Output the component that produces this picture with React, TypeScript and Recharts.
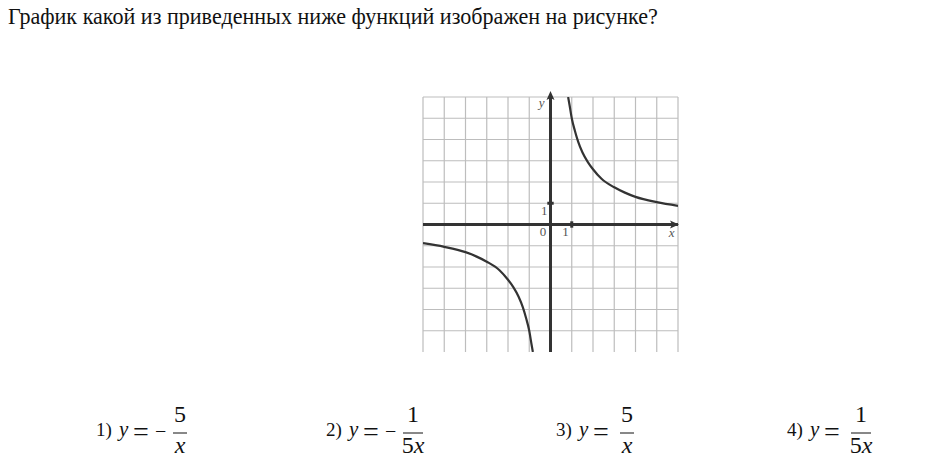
import React from "react";
import {
  ComposedChart,
  Line,
  XAxis,
  YAxis,
  CartesianGrid,
  ReferenceLine,
  ReferenceDot,
} from "recharts";

const question = "График какой из приведенных ниже функций изображен на рисунке?";

// grid ticks (in units)
const gridX = [-6, -5, -4, -3, -2, -1, 0, 1, 2, 3, 4, 5, 6];
const gridY = [-5, -4, -3, -2, -1, 0, 1, 2, 3, 4, 5, 6];

// curve: right branch and left branch
const rightX = [0.83, 0.9, 1, 1.15, 1.3, 1.5, 1.75, 2, 2.4, 3, 3.5, 4, 5, 6];
const rightY = [6, 5.6, 5, 4.4, 3.9, 3.4, 2.95, 2.6, 2.15, 1.75, 1.5, 1.3, 1.05, 0.88];
const leftX = [-6, -5, -4, -3.5, -3, -2.4, -2, -1.75, -1.5, -1.3, -1.15, -1, -0.9, -0.83];
const leftY = [-0.88, -1.05, -1.3, -1.5, -1.75, -2.15, -2.6, -2.95, -3.4, -3.9, -4.4, -5, -5.6, -6];

// answer options
const optNums = ["1)", "2)", "3)", "4)"];
const optSign = ["−", "−", "", ""];
const optTop = ["5", "1", "5", "1"];
const optCoef = ["", "5", "", "5"];

const rightBranch = rightX.map((x, i) => ({ x, y: rightY[i] }));
const leftBranch = leftX.map((x, i) => ({ x, y: leftY[i] }));

const serif = "Liberation Serif";
const ink = "#333";
const optLeft = [96, 326, 556, 787];

function ArrowRight(p: any) {
  const { cx, cy } = p;
  return <path d={`M${cx + 1},${cy} L${cx - 8},${cy - 4} L${cx - 6},${cy} L${cx - 8},${cy + 4} Z`} fill={ink} />;
}

function ArrowUp(p: any) {
  const { cx, cy } = p;
  return <path d={`M${cx},${cy - 6} L${cx - 4},${cy + 3} L${cx},${cy + 1} L${cx + 4},${cy + 3} Z`} fill={ink} />;
}

const textAt = (label: string, italic = false) => (p: any) => (
  <text
    x={p.cx}
    y={p.cy}
    textAnchor="middle"
    dominantBaseline="central"
    fontFamily={serif}
    fontSize={13}
    fontStyle={italic ? "italic" : "normal"}
    fill="#555"
  >
    {label}
  </text>
);

function Option({ i }: { i: number }) {
  const x0 = optLeft[i];
  const hasSign = !!optSign[i];
  const wide = !!optCoef[i];
  const barStart = x0 + (hasSign ? 77 : 64);
  const barW = wide ? 20 : 14;
  const mid = barStart + barW / 2;
  return (
    <g fontFamily={serif} fill="#111">
      <text x={x0} y={436} fontSize={19}>{optNums[i]}</text>
      <text x={x0 + 23} y={436} fontSize={21} fontStyle="italic">y</text>
      <text x={x0 + 37} y={441} fontSize={28}>=</text>
      {hasSign ? <text x={x0 + 59} y={438} fontSize={20}>−</text> : null}
      <line x1={barStart} x2={barStart + barW} y1={433} y2={433} stroke="#111" strokeWidth={1} />
      <text x={mid} y={422} fontSize={24} textAnchor="middle">{optTop[i]}</text>
      <text x={mid} y={453} fontSize={24} textAnchor="middle">
        {optCoef[i]}
        <tspan fontStyle="italic">x</tspan>
      </text>
    </g>
  );
}

export default function App() {
  return (
    <div style={{ position: "absolute", left: 0, top: 0, width: 931, height: 465, background: "#fff" }}>
      <svg width={931} height={465} style={{ position: "absolute", left: 0, top: 0 }}>
        <text x={8} y={24} fontFamily={serif} fontSize={22.1} fill="#111">{question}</text>
        {optNums.map((n, i) => (
          <Option key={n} i={i} />
        ))}
      </svg>

      <div style={{ position: "absolute", left: 413, top: 87 }}>
        <ComposedChart width={275} height={275} margin={{ top: 10, right: 10, bottom: 10, left: 10 }}>
          <XAxis type="number" dataKey="x" domain={[-6, 6]} ticks={gridX} interval={0} hide allowDataOverflow />
          <YAxis type="number" dataKey="y" domain={[-6, 6]} ticks={gridY} interval={0} hide allowDataOverflow />
          <CartesianGrid stroke="#bdbdbd" strokeWidth={1.2} horizontalValues={gridY} verticalValues={gridX} />
          <ReferenceLine y={0} stroke={ink} strokeWidth={3} />
          <ReferenceLine x={0} stroke={ink} strokeWidth={3} />
          <ReferenceLine segment={[{ x: 1, y: -0.15 }, { x: 1, y: 0.15 }]} stroke={ink} strokeWidth={3} />
          <ReferenceLine segment={[{ x: -0.15, y: 1 }, { x: 0.15, y: 1 }]} stroke={ink} strokeWidth={3} />
          <ReferenceDot x={6} y={0} shape={ArrowRight} />
          <ReferenceDot x={0} y={6} shape={ArrowUp} />
          <ReferenceDot x={-0.35} y={-0.32} shape={textAt("0")} />
          <ReferenceDot x={0.7} y={-0.32} shape={textAt("1")} />
          <ReferenceDot x={-0.3} y={0.67} shape={textAt("1")} />
          <ReferenceDot x={-0.42} y={5.72} shape={textAt("y", true)} />
          <ReferenceDot x={5.7} y={-0.36} shape={textAt("x", true)} />
          <Line data={rightBranch} dataKey="y" type="monotone" stroke={ink} strokeWidth={2.2} dot={false} isAnimationActive={false} />
          <Line data={leftBranch} dataKey="y" type="monotone" stroke={ink} strokeWidth={2.2} dot={false} isAnimationActive={false} />
        </ComposedChart>
      </div>
    </div>
  );
}
